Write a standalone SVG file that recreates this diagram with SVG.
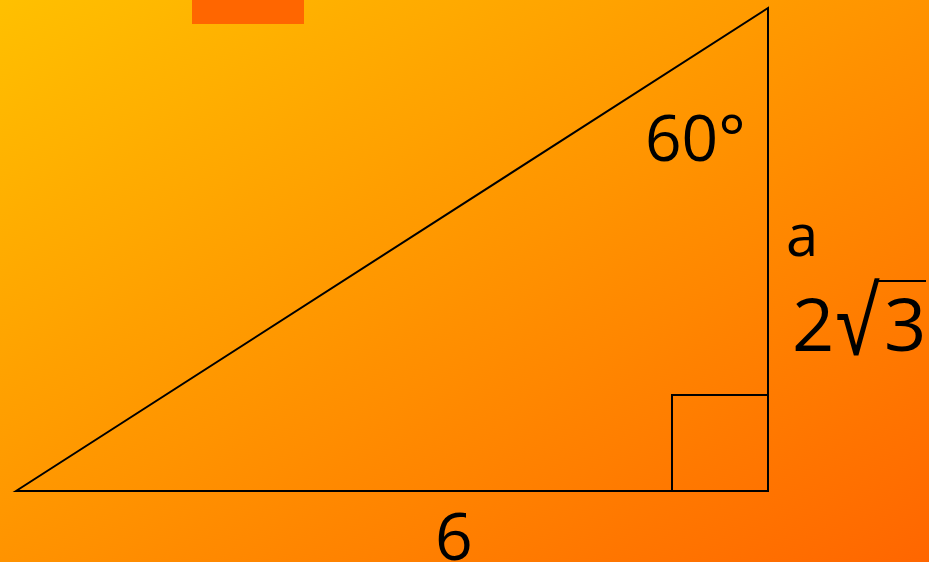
<svg xmlns="http://www.w3.org/2000/svg" width="929" height="562" viewBox="0 0 929 562">
<defs>
<linearGradient id="bg" x1="0" y1="0" x2="1" y2="1">
<stop offset="0" stop-color="#FFC000"/>
<stop offset="1" stop-color="#FF6600"/>
</linearGradient>
<style>
.lbl{font-family:"Open Sans","DejaVu Sans",sans-serif;fill:#000}
.ln{fill:none;stroke:#000;stroke-width:2}
</style>
</defs>
<rect width="929" height="562" fill="url(#bg)"/>
<rect x="192" y="0" width="112" height="24" fill="#FF6600"/>
<g id="triangle">
<polygon class="ln" points="16,491 768,8 768,491"/>
<rect class="ln" x="672" y="395" width="96" height="96"/>
</g>
<g id="labels">
<text class="lbl" x="645" y="161" font-size="64">60°</text>
<text class="lbl" x="786" y="256" font-size="58">a</text>
<text class="lbl" x="792" y="351" font-size="74">2</text>
<text class="lbl" font-size="64" transform="translate(836,355) scale(1.15,1.45)">√</text>
<line class="ln" x1="874" y1="281" x2="926" y2="281" stroke-width="3"/>
<text class="lbl" x="884" y="351" font-size="74">3</text>
<text class="lbl" x="435" y="560" font-size="66">6</text>
</g>
</svg>
